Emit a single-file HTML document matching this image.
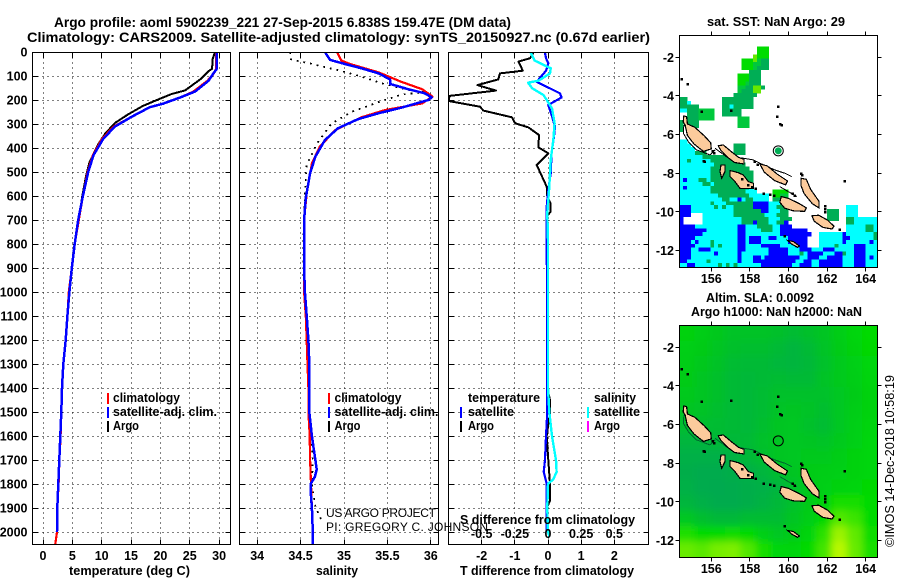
<!DOCTYPE html>
<html>
<head>
<meta charset="utf-8">
<title>Argo profile</title>
<style>
html,body{margin:0;padding:0;background:#fff;width:900px;height:580px;overflow:hidden}
svg{display:block}
text{font-family:"Liberation Sans",sans-serif;font-weight:bold;font-size:12.5px;fill:#000}
.thin{font-weight:normal;font-size:13px}
.credit{font-weight:normal;font-size:12px}
</style>
</head>
<body>
<svg id="chart" xmlns="http://www.w3.org/2000/svg" width="900" height="580" viewBox="0 0 900 580">
<rect x="0" y="0" width="900" height="580" fill="#fff"/>
<defs>
<clipPath id="clip1"><rect x="32.5" y="52.5" width="198" height="492"/></clipPath>
<clipPath id="clip2"><rect x="239.5" y="52.5" width="199" height="492"/></clipPath>
<clipPath id="clip3"><rect x="448.5" y="52.5" width="200" height="492"/></clipPath>
<clipPath id="clipM1"><rect x="679.5" y="35.5" width="198" height="232"/></clipPath>
<clipPath id="clipM2"><rect x="679.5" y="325.5" width="198" height="232"/></clipPath>
<filter id="soft" x="-5%" y="-5%" width="110%" height="110%"><feGaussianBlur stdDeviation="4"/></filter>
</defs>
<g id="layer-grid"></g>
<g id="layer-series"></g>
<g id="layer-maps"></g>
<g id="layer-axes"></g>

<text x="54" y="27" style="font-size:14px" textLength="457" lengthAdjust="spacingAndGlyphs">Argo profile: aoml 5902239_221 27-Sep-2015 6.838S 159.47E (DM data)</text>
<text x="27" y="42" style="font-size:14px" textLength="623" lengthAdjust="spacingAndGlyphs">Climatology: CARS2009. Satellite-adjusted climatology: synTS_20150927.nc (0.67d earlier)</text>

<text x="69" y="575" textLength="121" lengthAdjust="spacingAndGlyphs">temperature (deg C)</text>
<text x="316" y="575" textLength="42" lengthAdjust="spacingAndGlyphs">salinity</text>
<text x="460" y="575" textLength="174" lengthAdjust="spacingAndGlyphs">T difference from climatology</text>
<text x="460" y="524" textLength="175" lengthAdjust="spacingAndGlyphs">S difference from climatology</text>

<g>
<rect x="107" y="393" width="2" height="11" fill="#f00"/>
<text x="113" y="402" textLength="67" lengthAdjust="spacingAndGlyphs">climatology</text>
<rect x="107" y="407" width="2" height="11" fill="#00f"/>
<text x="113" y="416" textLength="104" lengthAdjust="spacingAndGlyphs">satellite-adj. clim.</text>
<rect x="107" y="421" width="2" height="11" fill="#000"/>
<text x="113" y="430" textLength="26" lengthAdjust="spacingAndGlyphs">Argo</text>
</g>
<g>
<rect x="328" y="393" width="2" height="11" fill="#f00"/>
<text x="334.500" y="402" textLength="67" lengthAdjust="spacingAndGlyphs">climatology</text>
<rect x="328" y="407" width="2" height="11" fill="#00f"/>
<text x="334.500" y="416" textLength="104" lengthAdjust="spacingAndGlyphs">satellite-adj. clim.</text>
<rect x="328" y="421" width="2" height="11" fill="#000"/>
<text x="334.500" y="430" textLength="26" lengthAdjust="spacingAndGlyphs">Argo</text>
</g>
<g>
<text x="468" y="402" textLength="72" lengthAdjust="spacingAndGlyphs">temperature</text>
<rect x="460" y="407" width="2" height="11" fill="#00f"/>
<text x="468" y="416" textLength="46" lengthAdjust="spacingAndGlyphs">satellite</text>
<rect x="460" y="421" width="2" height="11" fill="#000"/>
<text x="468" y="430" textLength="26" lengthAdjust="spacingAndGlyphs">Argo</text>
<text x="594" y="402" textLength="42" lengthAdjust="spacingAndGlyphs">salinity</text>
<rect x="587" y="407" width="2" height="11" fill="#0ff"/>
<text x="594" y="416" textLength="46" lengthAdjust="spacingAndGlyphs">satellite</text>
<rect x="587" y="421" width="2" height="11" fill="#f0f"/>
<text x="594" y="430" textLength="26" lengthAdjust="spacingAndGlyphs">Argo</text>
</g>

<text class="credit" x="326" y="517" textLength="110" lengthAdjust="spacing">US ARGO PROJECT</text>
<text class="credit" x="326" y="531" textLength="162" lengthAdjust="spacing">PI: GREGORY C. JOHNSON</text>

<text x="707" y="26" textLength="138" lengthAdjust="spacingAndGlyphs">sat. SST: NaN Argo: 29</text>
<text x="706" y="302" textLength="108" lengthAdjust="spacingAndGlyphs">Altim. SLA: 0.0092</text>
<text x="691" y="316" textLength="171" lengthAdjust="spacingAndGlyphs">Argo h1000: NaN h2000: NaN</text>
<text class="thin" transform="rotate(-90 894 547)" x="894" y="547" textLength="172" lengthAdjust="spacingAndGlyphs">©IMOS 14-Dec-2018 10:58:19</text>
</svg>

<script>
// ---------- axis tick labels ----------
var depthTicks = [0,100,200,300,400,500,600,700,800,900,1000,1100,1200,1300,1400,1500,1600,1700,1800,1900,2000];
var tempTicks = [0,5,10,15,20,25,30];
var salTicks = [34,34.5,35,35.5,36];
var tDiffTicks = [-2,-1,0,1,2];
var sDiffTicks = [-0.5,-0.25,0,0.25,0.5];
var lonTicks = [156,158,160,162,164];
var latTicks = [-2,-4,-6,-8,-10,-12];

// ---------- temperature profiles ----------
var argoTempDepth = [0,30,70,80,110,130,160,175,200,225,260,295,340,385,460,520,600,700,800,900,1000,1100,1200,1300,1400,1500,1600,1700,1800,1900,1960];
var argoTempValues = [29.3,28.9,28.8,28.2,27,25.9,24.2,21.9,19.4,17,14.5,12.3,10.6,9.4,7.9,7.3,6.7,6.1,5.4,4.9,4.5,4.1,3.85,3.45,3.2,3.1,2.95,2.8,2.65,2.45,2.4];
var climTempDepth = [0,70,90,120,165,190,215,230,270,310,360,430,500,600,700,800,900,1000,1100,1200,1300,1400,1500,1600,1700,1800,1900,2000,2050];
var climTempValues = [29.5,29.5,29.1,28,25.6,23.3,20.5,18.2,15.1,12.1,10.1,8.5,7.6,6.8,6.1,5.4,4.9,4.4,4.15,3.87,3.46,3.24,3.12,3,2.8,2.65,2.44,2.38,2.1];
var satTempDepth = [0,70,90,120,165,190,215,230,270,310,360,430,500,600,700,800,900,1000,1100,1200,1300,1400,1500,1600,1700,1800,1900,2000];
var satTempValues = [29.6,29.6,29,28.2,25.9,23.3,20.5,18.2,15.1,12.3,10.3,8.6,7.7,6.8,6,5.4,4.9,4.5,4.15,3.87,3.46,3.24,3.12,2.95,2.78,2.6,2.44,2.38];

// ---------- salinity profiles ----------
var argoSalDepth = [0,28,32,47,75,100,130,158,168,178,186,207,249,297,380,471,590,700,800,900,1000,1100,1200,1300,1400,1500,1600,1700,1800,1894,1936,1957];
var argoSalValues = [34.38,34.38,34.4,34.6,34.92,35.18,35.43,35.74,35.92,35.65,35.6,35.41,35.09,34.86,34.69,34.57,34.55,34.54,34.53,34.53,34.54,34.56,34.58,34.59,34.6,34.6,34.62,34.64,34.63,34.67,34.72,34.75];
var climSalDepth = [0,36,50,85,124,155,186,214,242,272,325,395,464,589,700,1000,1100,1200,1300,1400,1500,1600,1700,1800,1900,2000,2050];
var climSalValues = [34.92,34.97,35.07,35.4,35.66,35.9,36.02,35.9,35.47,35.2,34.9,34.72,34.63,34.57,34.54,34.54,34.56,34.57,34.58,34.59,34.59,34.605,34.61,34.62,34.63,34.64,34.64];
var satSalDepth = [0,6,33,50,68,89,114,133,155,172,189,200,232,255,280,318,367,436,505,608,700,800,900,1000,1100,1200,1300,1400,1500,1600,1650,1700,1740,1770,1800,1850,1900,2000,2050];
var satSalValues = [34.79,34.79,34.84,35.01,35.2,35.4,35.53,35.53,35.74,35.93,36.01,35.97,35.66,35.4,35.16,34.93,34.78,34.67,34.61,34.56,34.54,34.54,34.54,34.55,34.57,34.59,34.6,34.6,34.6,34.63,34.65,34.67,34.685,34.665,34.615,34.62,34.63,34.64,34.64];

// ---------- difference profiles ----------
var argoDiffDepth = [3,26,40,78,89,114,138,161,183,204,228,244,272,297,314,346,397,422,471,561,603,631,665,686,783,1400,1450,1500,1600,1700,1800,1870,1900,1960];
var argoDiffValues = [-0.44,-0.54,-0.89,-0.76,-1.45,-1.5,-2.13,-1.57,-2.97,-3,-2.05,-1.95,-1.09,-0.99,-0.59,-0.27,-0.29,0.01,-0.34,-0.04,-0.02,0.08,0.08,-0.04,-0.04,-0.02,0.06,0.06,-0.04,0.01,0.06,0.06,-0.04,-0.04];
var satTDiffDepth = [3,26,47,78,124,172,189,221,262,311,353,422,506,575,644,714,1400,1500,1600,1700,1750,1800,1900,2000];
var satTDiffValues = [-0.09,-0.06,0.01,-0.06,-0.34,0.36,0.41,0.01,0.11,0.21,0.18,0.11,0.08,0.01,-0.04,-0.04,-0.02,-0.02,-0.06,-0.09,-0.13,-0.04,-0.04,-0.04];
var satSDiffDepth = [3,36,68,89,119,128,151,179,200,235,297,367,450,561,672,783,1400,1500,1600,1700,1750,1780,1800,1900,2000,2020];
var satSDiffValues = [-0.13,-0.1,0.02,0.015,-0.07,-0.15,-0.12,-0.035,-0.01,0.03,0.05,0.04,0.02,0.01,-0.005,0,0,0.01,0.03,0.06,0.065,0.04,0,-0.005,0,0.012];

// ---------- SST map: run-length rows (count + class), 0.2 degree cells ----------
var sstClasses = {g:'#00ae55', G:'#00dc00', L:'#66e800', c:'#00ffff', b:'#0000ff', M:'#00c83c'};
var sstRows = [
"","","",
"20.3G","20.3G","19.1L3G",
"16.3G1L1M2g","16.3G2M2g","16.3G1M3g",
"18.3g",
"15.3G3g","15.3G3g","15.2G1M3g","15.2M2g2L1g",
"15.1M3g2L","14.6g",
"0.2g9.8g","2g1c8.8g",
"5g6.2g1c5g",
"2c3g4M2.5g",
"2.3g4M2.5g","2.3g4M6.3M",
"1g1.3g10.3M","1g1.3g10.3M","1g",
"","",
"2c","3c11.3g","4c10.3g","4c3g7.3g",
"6c8g","2c1g5c8g","9c8g","8c10g","8c11g","8c11g",
"1c1b3c2g1c11g","6c2g1c10g","1c1b6c10g1c",
"8c9g3c4.4G","10c8g5c1.2G2M","11c2g2c1b1c2g4c1.4g",
"8c1g3c7g4b3c2g",
"3b6c1g1c1g2c5g4b2c2g16.3c",
"3b11c7g2b3c2g10.3g2.3c",
"3b3.8c8g3c3g10.3g2.3c",
"1b5.10c7g3c3g9.3g2.2g6c",
"1b5.10c3g1b3g2c2g1b15.2g6c",
"4b11c2b3c4g2c3b14.5c2g1c",
"7b8c2b4c3g2c7b10.5c2g1c",
"6b9c2b9c8b2.6c1b7c1g",
"4b11c2b1c3b2c2b3c5b3.6c2b6c1g",
"3b1c1b3c1g6c2b1c3b7c5b3.6c1b6c1b1c",
"4b4c1g1c1g4c2b4c5b4c3b3.4c1g4c3b3c",
"3b2c3b7c2b6c5b3c3b3c3b5c3b3c",
"3b6c1b5c1b7c5b3c1g1c4b3c2b1g2c3b3c",
"3b12c1b3c2b1c9b2c3b2c1b3b3c3b1c1b1c",
"2b5c1g7c1b3c11b2c2b2c6b3c3b3c",
"2c2b6c1g1c1g1c1g6c8b2c3b2c6b3c3b3c"
];

// ---------- SLA map: 13 x 15 coarse field (relative level 0..1) ----------
var slaRow00 = [.42,.38,.33,.28,.28,.28,.25,.22,.25,.30,.38,.45,.50];
var slaRow01 = [.40,.36,.30,.25,.24,.24,.20,.15,.20,.28,.36,.42,.48];
var slaRow02 = [.38,.33,.27,.22,.20,.20,.17,.15,.18,.26,.34,.40,.46];
var slaRow03 = [.36,.30,.25,.20,.18,.20,.22,.20,.20,.28,.34,.38,.44];
var slaRow04 = [.34,.30,.25,.20,.18,.22,.26,.26,.26,.26,.32,.36,.42];
var slaRow05 = [.30,.28,.24,.20,.18,.22,.28,.30,.28,.24,.32,.38,.42];
var slaRow06 = [.24,.24,.22,.20,.18,.24,.30,.32,.26,.22,.32,.40,.44];
var slaRow07 = [.16,.16,.18,.18,.20,.26,.30,.32,.30,.28,.34,.40,.46];
var slaRow08 = [.10,.10,.10,.12,.18,.24,.30,.32,.34,.34,.38,.42,.46];
var slaRow09 = [.08,.06,.06,.08,.10,.16,.24,.30,.36,.38,.40,.42,.46];
var slaRow10 = [.10,.06,.05,.06,.08,.10,.16,.26,.34,.40,.42,.44,.48];
var slaRow11 = [.16,.10,.06,.06,.08,.12,.18,.26,.36,.42,.56,.56,.50];
var slaRow12 = [.32,.24,.18,.18,.22,.22,.22,.30,.38,.48,.72,.66,.50];
var slaRow13 = [.58,.50,.50,.52,.50,.40,.32,.36,.44,.62,.92,.76,.54];
var slaRow14 = [.78,.74,.82,.84,.72,.56,.46,.44,.50,.68,1,.78,.56];
var slaRows = [slaRow00,slaRow01,slaRow02,slaRow03,slaRow04,slaRow05,slaRow06,slaRow07,slaRow08,slaRow09,slaRow10,slaRow11,slaRow12,slaRow13,slaRow14];

// ---------- coastline in lon / lat ----------
var islandBougainville = [[154.58,-5.03],[154.72,-5.07],[154.76,-5.45],[155.15,-5.62],[155.62,-6.05],[155.97,-6.42],[156.0,-6.74],[155.59,-6.87],[155.1,-6.48],[154.76,-6.04],[154.64,-5.5],[154.54,-5.33]];
var islandChoiseul = [[156.36,-6.58],[156.62,-6.53],[157.0,-6.85],[157.42,-7.18],[157.7,-7.28],[157.7,-7.52],[157.2,-7.44],[156.84,-7.17],[156.5,-6.82]];
var islandIsabel = [[158.52,-7.52],[158.9,-7.62],[159.42,-8.05],[159.95,-8.4],[159.85,-8.6],[159.28,-8.38],[158.74,-7.94]];
var islandMalaita = [[160.66,-8.26],[160.92,-8.31],[161.15,-8.84],[161.58,-9.45],[161.58,-9.79],[161.24,-9.58],[160.81,-9.05],[160.64,-8.62]];
var islandGuadalcanal = [[159.62,-9.2],[160.0,-9.3],[160.54,-9.56],[160.93,-9.79],[160.83,-9.97],[160.24,-9.94],[159.8,-9.8],[159.55,-9.5]];
var islandMakira = [[161.22,-10.2],[161.56,-10.17],[162.02,-10.42],[162.36,-10.74],[162.26,-10.88],[161.78,-10.8],[161.33,-10.48]];
var islandNewGeorgia = [[156.97,-7.86],[157.17,-7.91],[157.4,-7.97],[157.66,-8.09],[157.92,-8.43],[158.18,-8.52],[158.18,-8.78],[157.49,-8.78],[157.23,-8.43],[156.97,-8.17]];
var islandVella = [[156.5,-7.57],[156.71,-7.57],[156.71,-7.91],[156.54,-8.26],[156.45,-7.91]];
var islandRennell = [[159.96,-11.48],[160.25,-11.53],[160.56,-11.76],[160.46,-11.83],[160.16,-11.66]];
var islands = [islandBougainville,islandChoiseul,islandIsabel,islandMalaita,islandGuadalcanal,islandMakira,islandNewGeorgia,islandVella,islandRennell];
var reefWest = [[154.58,-5.5],[154.55,-5.93],[154.81,-6.36],[155.24,-6.79],[155.93,-7.05],[156.19,-6.79]];
var reefNorth = [[156.19,-6.71],[156.79,-7.14],[157.66,-7.22],[158.18,-7.31],[158.52,-7.48],[159.3,-7.83],[159.82,-8.0],[160.16,-8.17]];
var reefSouth = [[159.55,-8.69],[159.99,-8.95],[160.43,-9.2]];
var reefs = [reefWest,reefNorth,reefSouth];
var speckLon = [155.6,155.65,154.76,154.46,155.5,157.02,159.45,159.4,159.55,159.65,160.65,160.7,162.9,161.9,161.9,161.9,159.25,158.3,159.8,162.65,158.7,159.05,156.05,156.15,157.6,157.9,158.1,160.2,160.3,158.25,158.4];
var speckLat = [-7.36,-7.4,-3.38,-3.12,-4.8,-4.76,-4.55,-5.05,-5.45,-5.5,-8.0,-8.08,-8.4,-9.7,-9.85,-10.0,-9.15,-8.78,-11.25,-10.9,-9.05,-9.1,-6.85,-6.95,-8.3,-8.6,-8.7,-9.05,-9.15,-7.4,-7.55];
var argoFloatLon = [159.47];
var argoFloatLat = [-6.838];

// ---------- scales ----------
function linear(d0, d1, r0, r1) {
  return function (v) { return r0 + (v - d0) * (r1 - r0) / (d1 - d0); };
}
var yDepth = linear(0, 2000, 52, 532);
var xTemp = linear(0, 30, 43, 219.1);
var xSal = linear(34, 36, 257.2, 430.8);
var xTDiff = linear(-2, 2, 481.7, 614.3);
var xSDiff = linear(-0.5, 0.5, 481.7, 614.3);
var xLon = linear(156, 164, 711.3, 865.7);
var yLat1 = linear(-2, -12, 57.3, 250.6);
var yLat2 = linear(-2, -12, 347.3, 540.6);

var NS = 'http://www.w3.org/2000/svg';
var layerGrid = document.getElementById('layer-grid');
var layerSeries = document.getElementById('layer-series');
var layerMaps = document.getElementById('layer-maps');
var layerAxes = document.getElementById('layer-axes');

function make(tag, parent, attrs) {
  var el = document.createElementNS(NS, tag);
  for (var k in attrs) { el.setAttribute(k, attrs[k]); }
  parent.appendChild(el);
  return el;
}
function snap(v) { return Math.round(v - 0.5) + 0.5; }

function tickText(parent, str, x, y, anchor, name) {
  var el = make('text', parent, {x: x, y: y, 'text-anchor': anchor});
  el.textContent = str;
  
  
  return el;
}
function segment(parent, x1, y1, x2, y2, dash, name) {
  var el = make('line', parent, {x1: x1, y1: y1, x2: x2, y2: y2, stroke: '#000', 'stroke-width': 1, 'shape-rendering': 'crispEdges'});
  if (dash) { el.setAttribute('stroke-dasharray', dash); }
  
  
  return el;
}
function box(parent, L, T, R, B, name) {
  var el = make('rect', parent, {x: L, y: T, width: R - L, height: B - T, fill: 'none', stroke: '#000', 'stroke-width': 1, 'shape-rendering': 'crispEdges'});
  
  
}

// profile panels
function panel(L, R, xTicks, xFn, xLabelFmt, yLabels, key) {
  var T = 52.5, B = 544.5;
  depthTicks.forEach(function (d) {
    var y = snap(yDepth(d));
    if (d > 0) {
      segment(layerGrid, L, y, R, y, '1 4', key + '-grid-depth-' + d);
      segment(layerAxes, L, y, L + 5, y, null, key + '-tick-depth-' + d);
      segment(layerAxes, R - 5, y, R, y, null, key + '-tick-depth-right-' + d);
    }
    if (yLabels) { tickText(layerAxes, String(d), 27.5, yDepth(d) + 4.5, 'end', 'depth-label-' + d); }
  });
  xTicks.forEach(function (t) {
    var x = snap(xFn(t));
    segment(layerGrid, x, T, x, B, '1 4', key + '-grid-x-' + t);
    segment(layerAxes, x, B - 5, x, B, null, key + '-tick-x-' + t);
    segment(layerAxes, x, T, x, T + 5, null, key + '-tick-x-top-' + t);
    tickText(layerAxes, xLabelFmt(t), xFn(t), 560, 'middle', key + '-x-label-' + t);
  });
  box(layerAxes, L, T, R, B, key + '-frame');
}
panel(32.5, 230.5, tempTicks, xTemp, String, true, 'temperature');
panel(239.5, 438.5, salTicks, xSal, String, false, 'salinity');
panel(448.5, 648.5, tDiffTicks, xTDiff, String, false, 't-difference');
sDiffTicks.forEach(function (t) {
  tickText(layerAxes, String(t), xSDiff(t), 538, 'middle', 's-difference-label-' + t);
});

function profile(depths, values, xFn, color, width, dash, clip, name) {
  var pts = depths.map(function (d, i) { return xFn(values[i]).toFixed(1) + ',' + yDepth(d).toFixed(1); }).join(' ');
  var el = make('polyline', layerSeries, {points: pts, fill: 'none', stroke: color, 'stroke-width': width, 'clip-path': 'url(#' + clip + ')', 'shape-rendering': 'crispEdges', 'stroke-linejoin': 'round'});
  if (dash) { el.setAttribute('stroke-dasharray', dash); }
  
  
}
profile(argoTempDepth, argoTempValues, xTemp, '#000', 2, null, 'clip1', 'argo-temperature-line');
profile(climTempDepth, climTempValues, xTemp, '#f00', 2.2, null, 'clip1', 'climatology-temperature-line');
profile(satTempDepth, satTempValues, xTemp, '#00f', 2.5, null, 'clip1', 'satellite-temperature-line');
profile(argoSalDepth, argoSalValues, xSal, '#000', 1.8, '1.8 5', 'clip2', 'argo-salinity-line');
profile(climSalDepth, climSalValues, xSal, '#f00', 2.2, null, 'clip2', 'climatology-salinity-line');
profile(satSalDepth, satSalValues, xSal, '#00f', 2.5, null, 'clip2', 'satellite-salinity-line');
profile(argoDiffDepth, argoDiffValues, xTDiff, '#000', 2, null, 'clip3', 'argo-t-difference-line');
profile(satTDiffDepth, satTDiffValues, xTDiff, '#00f', 2.2, null, 'clip3', 'satellite-t-difference-line');
profile(satSDiffDepth, satSDiffValues, xSDiff, '#0ff', 2.4, null, 'clip3', 'satellite-s-difference-line');

// maps
var LON0 = 154.34, LON1 = 164.6, LAT0 = -0.85, LAT1 = -12.85;

var sstGroup = make('g', layerMaps, {'clip-path': 'url(#clipM1)', 'shape-rendering': 'crispEdges'});


sstRows.forEach(function (rowText, r) {
  var col = 0, rest = rowText, m;
  while ((m = /^(\d+)([a-zA-Z.])/.exec(rest))) {
    rest = rest.slice(m[0].length);
    var n = parseInt(m[1], 10), cls = m[2];
    if (cls !== '.') {
      for (var i = 0; i < n; i++) {
        var c = col + i;
        var lonA = LON0 + c * (LON1 - LON0) / 51, lonB = LON0 + (c + 1) * (LON1 - LON0) / 51;
        var latA = LAT0 + r * (LAT1 - LAT0) / 60, latB = LAT0 + (r + 1) * (LAT1 - LAT0) / 60;
        var cell = make('rect', sstGroup, {x: xLon(lonA), y: yLat1(latA), width: xLon(lonB) - xLon(lonA) + 0.3, height: yLat1(latB) - yLat1(latA) + 0.3, fill: sstClasses[cls]});
        
        
      }
    }
    col += n;
  }
});

function slaColor(v) {
  var a = [0, 165, 88], b = [0, 218, 0], c = [185, 248, 0], p, q, t;
  if (v < 0.5) { p = a; q = b; t = v / 0.5; } else { p = b; q = c; t = (v - 0.5) / 0.5; }
  return 'rgb(' + Math.round(p[0] + (q[0] - p[0]) * t) + ',' + Math.round(p[1] + (q[1] - p[1]) * t) + ',' + Math.round(p[2] + (q[2] - p[2]) * t) + ')';
}
var slaClip = make('g', layerMaps, {'clip-path': 'url(#clipM2)'});


var slaGroup = make('g', slaClip, {filter: 'url(#soft)'});


slaRows.forEach(function (row, r) {
  row.forEach(function (v, c) {
    var w = (LON1 - LON0) / row.length, h = (LAT1 - LAT0) / slaRows.length;
    var lonA = LON0 + c * w, latA = LAT0 + r * h;
    var pad = 0.5;
    var extraL = c === 0 ? 20 : 0, extraR = c === row.length - 1 ? 20 : 0;
    var extraT = r === 0 ? 20 : 0, extraB = r === slaRows.length - 1 ? 20 : 0;
    var cell = make('rect', slaGroup, {
      x: xLon(lonA) - extraL,
      y: yLat2(latA) - extraT,
      width: xLon(lonA + w) - xLon(lonA) + pad + extraL + extraR,
      height: yLat2(latA + h) - yLat2(latA) + pad + extraT + extraB,
      fill: slaColor(v)
    });
    
    
  });
});

function coast(yFn, clip, reefColor, prefix) {
  var g = make('g', layerMaps, {'clip-path': 'url(#' + clip + ')'});
  
  
  reefs.forEach(function (line) {
    var pts = line.map(function (p) { return xLon(p[0]).toFixed(1) + ',' + yFn(p[1]).toFixed(1); }).join(' ');
    var el = make('polyline', g, {points: pts, fill: 'none', stroke: reefColor, 'stroke-width': 1, 'shape-rendering': 'crispEdges'});
    
    
  });
  islands.forEach(function (poly) {
    var pts = poly.map(function (p) { return xLon(p[0]).toFixed(1) + ',' + yFn(p[1]).toFixed(1); }).join(' ');
    var el = make('polygon', g, {points: pts, fill: '#fccb9c', stroke: '#000', 'stroke-width': 1.2, 'shape-rendering': 'crispEdges'});
    
    
  });
  speckLon.forEach(function (lon, i) {
    var el = make('rect', g, {x: xLon(lon) - 1, y: yFn(speckLat[i]) - 1, width: 2.5, height: 2.5, fill: '#000', 'shape-rendering': 'crispEdges'});
    
    
  });
}
coast(yLat1, 'clipM1', '#000', 'sst');
coast(yLat2, 'clipM2', '#00662f', 'sla');

var sstRing = make('circle', layerMaps, {cx: xLon(argoFloatLon[0]), cy: yLat1(argoFloatLat[0]), r: 4, fill: '#00ae55', stroke: '#fff', 'stroke-width': 1});


function floatMarker(yFn, prefix) {
  var el = make('circle', layerMaps, {cx: xLon(argoFloatLon[0]), cy: yFn(argoFloatLat[0]), r: 5, fill: 'none', stroke: '#000', 'stroke-width': 1});
  
  
}
floatMarker(yLat1, 'sst');
floatMarker(yLat2, 'sla');

function mapAxes(T, B, yFn, labelY, key) {
  var L = 679.5, R = 877.5;
  lonTicks.forEach(function (lon) {
    var x = snap(xLon(lon));
    segment(layerAxes, x, T, x, T - 4, null, key + '-tick-lon-top-' + lon);
    segment(layerAxes, x, B, x, B + 4, null, key + '-tick-lon-' + lon);
    tickText(layerAxes, String(lon), xLon(lon), labelY, 'middle', key + '-lon-label-' + lon);
  });
  latTicks.forEach(function (lat) {
    var y = snap(yFn(lat));
    segment(layerAxes, L - 4, y, L, y, null, key + '-tick-lat-' + lat);
    segment(layerAxes, R, y, R + 4, y, null, key + '-tick-lat-right-' + lat);
    tickText(layerAxes, String(lat), 674, yFn(lat) + 4.5, 'end', key + '-lat-label-' + lat);
  });
  box(layerAxes, L, T, R, B, key + '-map-frame');
}
mapAxes(35.5, 267.5, yLat1, 283, 'sst');
mapAxes(325.5, 557.5, yLat2, 573, 'sla');
</script>
</body>
</html>
